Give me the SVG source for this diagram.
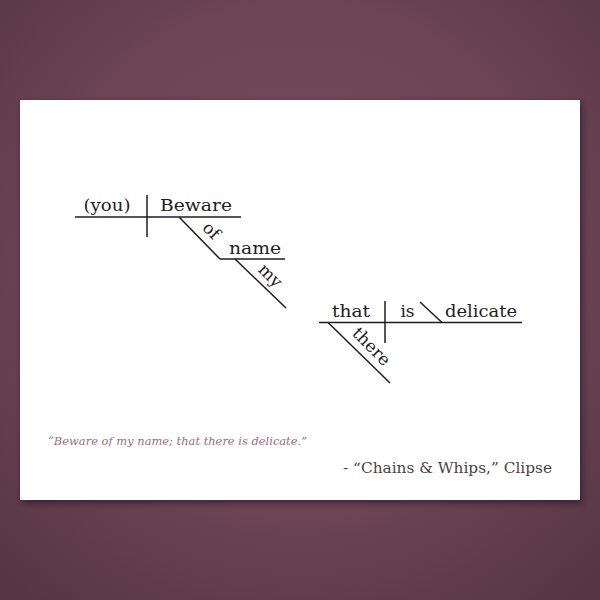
<svg xmlns="http://www.w3.org/2000/svg" width="600" height="600" viewBox="0 0 600 600">
  <defs>
    <radialGradient id="bg" cx="300" cy="260" r="430" gradientUnits="userSpaceOnUse">
      <stop offset="0" stop-color="#794c5d"/>
      <stop offset="0.6" stop-color="#6c4454"/>
      <stop offset="1" stop-color="#573644"/>
    </radialGradient>
    <filter id="shadow" x="-5%" y="-5%" width="110%" height="115%">
      <feGaussianBlur stdDeviation="3"/>
    </filter>
    <style>
      .w { font-family: "DejaVu Serif", "Liberation Serif", serif; font-size: 17px; fill: #1e1e1e; }
      .ln { stroke: #1e1e1e; stroke-width: 1.5; fill: none; }
      .quote { font-family: "DejaVu Serif", "Liberation Serif", serif; font-style: italic; font-size: 11.5px; fill: #9c6c7e; }
      .src { font-family: "DejaVu Serif", "Liberation Serif", serif; font-size: 15.5px; fill: #4e4249; }
    </style>
  </defs>
  <rect x="0" y="0" width="600" height="600" fill="url(#bg)"/>
  <rect x="22" y="103" width="560" height="400" fill="#2a1820" opacity="0.7" filter="url(#shadow)"/>
  <rect x="20" y="100" width="560" height="400" fill="#ffffff"/>

  <g id="connectors">
    <line class="ln" x1="75" y1="217" x2="241" y2="217"/>
    <line class="ln" x1="147" y1="195" x2="147" y2="237"/>
    <line class="ln" x1="179" y1="217" x2="220" y2="259"/>
    <line class="ln" x1="220" y1="259" x2="285" y2="259"/>
    <line class="ln" x1="235" y1="259" x2="286" y2="308"/>
    <line class="ln" x1="319" y1="322.5" x2="522" y2="322.5"/>
    <line class="ln" x1="385" y1="301" x2="385" y2="343"/>
    <line class="ln" x1="420" y1="302" x2="442" y2="322.5"/>
    <line class="ln" x1="328" y1="322.5" x2="390" y2="383"/>
  </g>

  <g id="you"><text class="w" x="107" y="211" text-anchor="middle" textLength="47" lengthAdjust="spacingAndGlyphs">(you)</text></g>
  <g id="beware"><text class="w" x="196" y="211" text-anchor="middle" textLength="72" lengthAdjust="spacingAndGlyphs">Beware</text></g>
  <g id="of"><text class="w" x="0" y="0" text-anchor="middle" transform="translate(211,231) rotate(45) translate(0,5)">of</text></g>
  <g id="name"><text class="w" x="255" y="254" text-anchor="middle" textLength="52" lengthAdjust="spacingAndGlyphs">name</text></g>
  <g id="my"><text class="w" x="0" y="0" text-anchor="middle" transform="translate(270,276) rotate(45) translate(0,5)">my</text></g>
  <g id="that"><text class="w" x="351" y="317" text-anchor="middle" textLength="38" lengthAdjust="spacingAndGlyphs">that</text></g>
  <g id="is"><text class="w" x="407.5" y="317" text-anchor="middle">is</text></g>
  <g id="delicate"><text class="w" x="481" y="317" text-anchor="middle" textLength="72" lengthAdjust="spacingAndGlyphs">delicate</text></g>
  <g id="there"><text class="w" x="0" y="0" text-anchor="middle" transform="translate(371,347) rotate(45) translate(0,5)">there</text></g>

  <g id="quote"><text class="quote" x="48" y="445" textLength="259" lengthAdjust="spacingAndGlyphs">“Beware of my name; that there is delicate.”</text></g>
  <g id="source"><text class="src" x="343" y="473" textLength="209" lengthAdjust="spacingAndGlyphs">- “Chains &amp; Whips,” Clipse</text></g>
</svg>
